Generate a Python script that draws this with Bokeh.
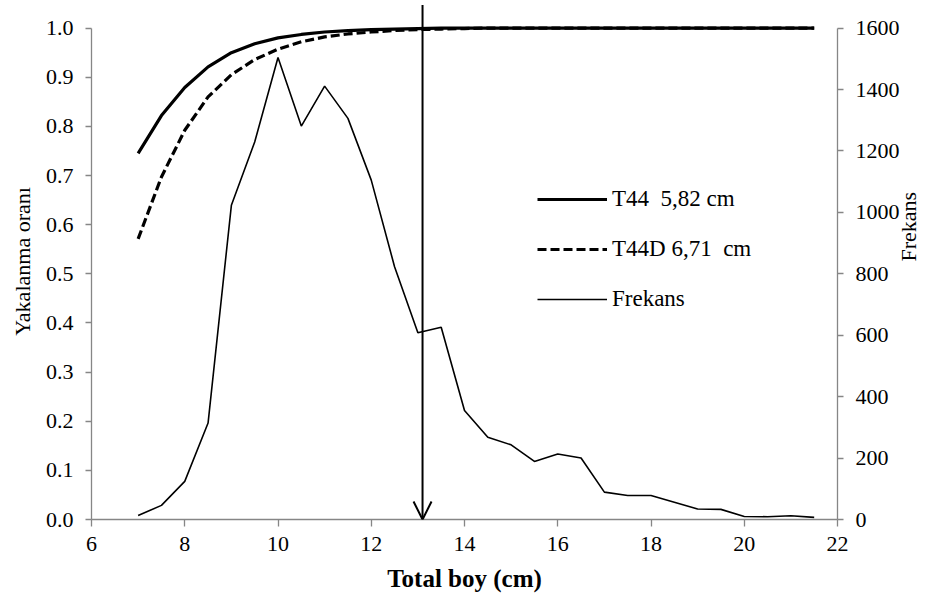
import math
from bokeh.plotting import figure
from bokeh.models import (Range1d, LinearAxis, FixedTicker, NumeralTickFormatter,
                          Legend, LegendItem, Arrow, OpenHead)
from bokeh.embed import file_html
from bokeh.resources import INLINE

# ---- data ----
length_cm = [7, 7.5, 8, 8.5, 9, 9.5, 10, 10.5, 11, 11.5, 12, 12.5, 13, 13.5, 14,
             14.5, 15, 15.5, 16, 16.5, 17, 17.5, 18, 18.5, 19, 19.5, 20, 20.5, 21, 21.5]
t44 = [0.745, 0.822, 0.879, 0.921, 0.950, 0.968, 0.980, 0.987, 0.992, 0.995,
       0.997, 0.998, 0.999, 1.0, 1.0, 1.0, 1.0, 1.0, 1.0, 1.0,
       1.0, 1.0, 1.0, 1.0, 1.0, 1.0, 1.0, 1.0, 1.0, 1.0]
t44d = [0.571, 0.697, 0.792, 0.860, 0.905, 0.936, 0.957, 0.972, 0.982, 0.988,
        0.992, 0.995, 0.997, 0.998, 0.999, 1.0, 1.0, 1.0, 1.0, 1.0,
        1.0, 1.0, 1.0, 1.0, 1.0, 1.0, 1.0, 1.0, 1.0, 1.0]
frekans = [13, 46, 124, 314, 1023, 1229, 1504, 1281, 1411, 1306,
           1105, 823, 608, 626, 355, 268, 243, 189, 213, 200,
           89, 78, 78, 56, 34, 33, 10, 9, 12, 7]
arrow_x = 13.1
legend_labels = ["T44  5,82 cm", "T44D 6,71  cm", "Frekans"]
x_ticks = [6, 8, 10, 12, 14, 16, 18, 20, 22]
y_ticks = [0.0, 0.1, 0.2, 0.3, 0.4, 0.5, 0.6, 0.7, 0.8, 0.9, 1.0]
f_ticks = [0, 200, 400, 600, 800, 1000, 1200, 1400, 1600]

FONT = "'Liberation Serif', 'Times New Roman', serif"
AX = "#868686"

p = figure(width=936, height=600, output_backend="svg", toolbar_location=None,
           x_range=Range1d(6, 22), y_range=Range1d(0, 1.05),
           min_border_left=91, min_border_right=95, min_border_top=3, min_border_bottom=81,
           y_axis_location=None, x_axis_location=None)
p.extra_y_ranges = {"freq": Range1d(0, 1680)}
p.grid.visible = False
p.outline_line_color = None
p.background_fill_color = "white"
p.border_fill_color = "white"


def style(ax, ticks):
    ax.ticker = FixedTicker(ticks=ticks)
    ax.axis_line_color = AX
    ax.axis_line_width = 1.3
    ax.major_tick_line_color = AX
    ax.major_tick_line_width = 1.3
    ax.major_tick_in = 0
    ax.major_tick_out = 6
    ax.minor_tick_line_color = None
    ax.major_label_text_font = FONT
    ax.major_label_text_font_size = "22px"
    ax.major_label_text_color = "black"
    ax.axis_label_text_font = FONT
    ax.axis_label_text_font_size = "22px"
    ax.axis_label_text_font_style = "normal"
    ax.axis_label_text_color = "black"


xax = LinearAxis(axis_label="Total boy (cm)")
style(xax, x_ticks)
xax.major_tick_out = 7
xax.major_label_standoff = 10
xax.axis_label_standoff = 11
xax.axis_label_text_font_style = "bold"
xax.axis_label_text_font_size = "25px"
p.add_layout(xax, "below")

yax = LinearAxis(axis_label="Yakalanma oranı", bounds=(0, 1))
style(yax, y_ticks)
yax.formatter = NumeralTickFormatter(format="0.0")
yax.major_label_standoff = 12
yax.axis_label_standoff = 8
p.add_layout(yax, "left")

rax = LinearAxis(y_range_name="freq", axis_label="Frekans", bounds=(0, 1600))
style(rax, f_ticks)
rax.major_label_standoff = 12
rax.axis_label_standoff = 6
rax.axis_label_text_baseline = "bottom"
rax.axis_label_orientation = math.pi / 2
p.add_layout(rax, "right")

r1 = p.line(length_cm, t44, line_color="black", line_width=3.2)
r2 = p.line(length_cm, t44d, line_color="black", line_width=3.2, line_dash="9 4")
r3 = p.line(length_cm, frekans, line_color="black", line_width=1.6, y_range_name="freq")

p.add_layout(Arrow(end=OpenHead(size=18, line_width=2, line_color="black"),
                   x_start=arrow_x, y_start=1.047, x_end=arrow_x, y_end=0,
                   line_width=2, line_color="black"))

legend = Legend(items=[LegendItem(label=legend_labels[0], renderers=[r1]),
                       LegendItem(label=legend_labels[1], renderers=[r2]),
                       LegendItem(label=legend_labels[2], renderers=[r3])],
                location=(446, 206), orientation="vertical")
legend.border_line_color = None
legend.background_fill_alpha = 0
legend.padding = 0
legend.margin = 0
legend.spacing = 22
legend.glyph_width = 70
legend.glyph_height = 28
legend.label_height = 28
legend.label_standoff = 5
legend.label_text_font = FONT
legend.label_text_font_size = "23px"
legend.label_text_color = "black"
p.add_layout(legend, "center")

open("out.html", "w").write(file_html(p, INLINE))
